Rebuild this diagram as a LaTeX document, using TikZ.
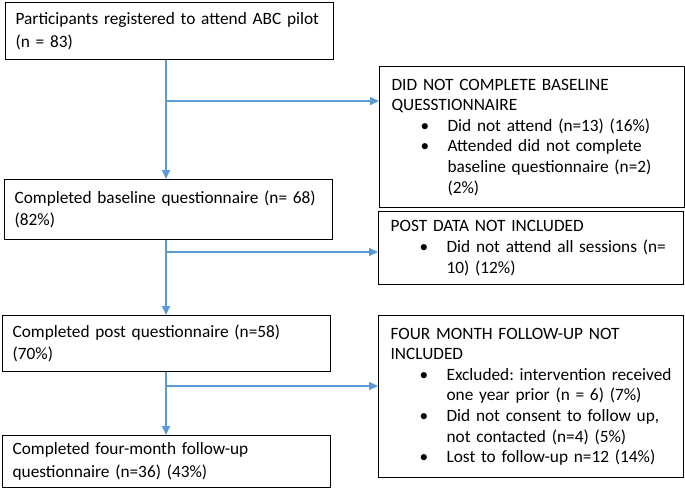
\documentclass[tikz,border=0pt]{standalone}
\usepackage{fontspec}
\setmainfont{Carlito}
\frenchspacing
\usetikzlibrary{arrows.meta}
\definecolor{lineblue}{RGB}{91,155,213}
\newcommand{\Ln}[1]{\mbox{#1}}
\newcommand{\Bul}[1]{\mbox{\hspace*{29pt}\makebox[27pt][l]{\textbullet}#1}}
\newcommand{\Cont}[1]{\mbox{\hspace*{56pt}#1}}
\tikzset{
  leftbox/.style={draw, line width=1.2pt, rectangle, align=left, anchor=north west,
    inner xsep=10pt, inner ysep=0pt, text width=308pt, minimum width=328pt,
    font=\fontsize{17.3}{22.5}\selectfont},
  rightbox/.style={draw, line width=1.2pt, rectangle, align=left, anchor=north west,
    inner xsep=12pt, inner ysep=0pt, text width=281pt, minimum width=305pt,
    font=\fontsize{17.3}{20.6}\selectfont},
  flow/.style={draw=lineblue, line width=1.5pt, -{Triangle[length=9pt,width=8pt]}},
}
\begin{document}
\begin{tikzpicture}[x=1pt,y=-1pt]
\useasboundingbox (0,0) rectangle (685,488);
\node[leftbox, minimum height=57pt] (b1) at (5,2)
  {\Ln{Participants registered to attend ABC pilot}\\\Ln{(n = 83)}};
\node[leftbox, minimum height=60pt] (b2) at (4,179)
  {\Ln{Completed baseline questionnaire (n= 68)}\\\Ln{(82\%)}};
\node[leftbox, minimum height=56pt] (b3) at (2,315)
  {\Ln{Completed post questionnaire (n=58)}\\\Ln{(70\%)}};
\node[leftbox, minimum height=52pt] (b4) at (2,435)
  {\Ln{Completed four-month follow-up}\\\Ln{questionnaire (n=36) (43\%)}};
\node[rightbox, minimum height=141pt] (r1) at (379,66)
  {\Ln{DID NOT COMPLETE BASELINE}\\\Ln{QUESSTIONNAIRE}\\
   \Bul{Did not attend (n=13) (16\%)}\\
   \Bul{Attended did not complete}\\
   \Cont{baseline questionnaire (n=2)}\\
   \Cont{(2\%)}};
\node[rightbox, minimum height=73pt] (r2) at (378,211)
  {\Ln{POST DATA NOT INCLUDED}\\
   \Bul{Did not attend all sessions (n=}\\
   \Cont{10) (12\%)}};
\node[rightbox, minimum height=162pt] (r3) at (378,315)
  {\Ln{FOUR MONTH FOLLOW-UP NOT}\\\Ln{INCLUDED}\\
   \Bul{Excluded: intervention received}\\
   \Cont{one year prior (n = 6) (7\%)}\\
   \Bul{Did not consent to follow up,}\\
   \Cont{not contacted (n=4) (5\%)}\\
   \Bul{Lost to follow-up n=12 (14\%)}};
\coordinate (v) at (166,0);
\coordinate (j1) at (166,101);
\coordinate (j2) at (166,252);
\coordinate (j3) at (166,386);
\draw[flow] (b1.south -| v) -- (b2.north -| v);
\draw[flow] (j1) -- (j1 -| r1.west);
\draw[flow] (b2.south -| v) -- (b3.north -| v);
\draw[flow] (j2) -- (j2 -| r2.west);
\draw[flow] (b3.south -| v) -- (b4.north -| v);
\draw[flow] (j3) -- (j3 -| r3.west);
\end{tikzpicture}
\end{document}
